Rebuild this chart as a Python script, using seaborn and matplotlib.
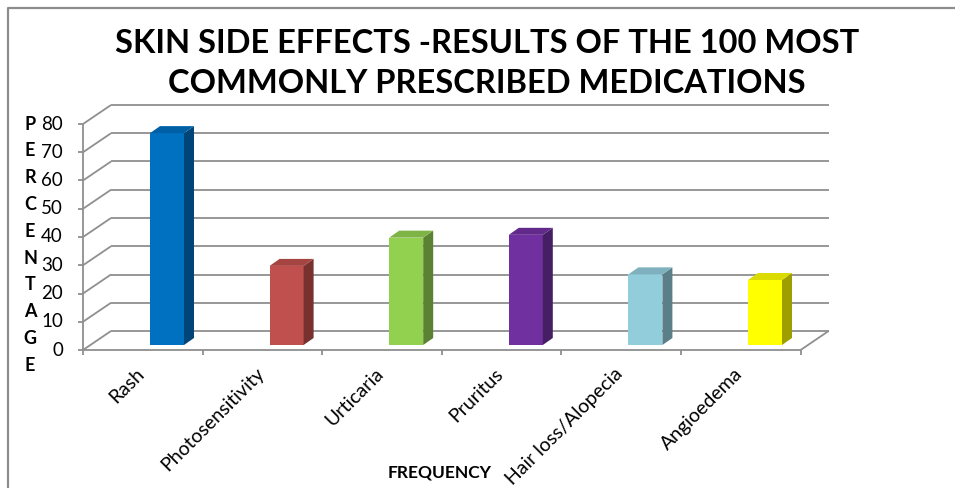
import numpy as np
import pandas as pd
import matplotlib
matplotlib.use("Agg")
import matplotlib.pyplot as plt
import seaborn as sns
from matplotlib.patches import Polygon
from matplotlib.colors import to_rgb
from matplotlib.lines import Line2D

categories = ["Rash", "Photosensitivity", "Urticaria", "Pruritus",
              "Hair loss/Alopecia", "Angioedema"]
percentages = [75, 28, 38, 39, 25, 23]
bar_colors = ["#0070C0", "#C0504D", "#92D050", "#7030A0", "#92CDDC", "#FFFF00"]
y_ticks = [0, 10, 20, 30, 40, 50, 60, 70, 80]
title_lines = ["SKIN SIDE EFFECTS -RESULTS OF THE 100 MOST",
               "COMMONLY PRESCRIBED MEDICATIONS"]
y_title = "PERCENTAGE"
x_title = "FREQUENCY"

W, H, DPI = 955, 488, 100
# pixel size of one category step and one percentage point
SX, SY = 119.6, 2.825
# pixel position of the first bar centre and of the bar base line
X0, Y0 = 167, 345


def px(x):
    return (x - X0) / SX


def py(y):
    return (Y0 - y) / SY


sns.set_theme(style="white")
plt.rcParams["font.family"] = ["Lato", "DejaVu Sans"]

fig = plt.figure(figsize=(W / DPI, H / DPI), dpi=DPI)
ax = fig.add_axes([0, 0, 1, 1])

df = pd.DataFrame({"effect": categories, "pct": percentages})
sns.barplot(data=df, x="effect", y="pct", hue="effect", palette=bar_colors,
            width=34 / SX, saturation=1, legend=False, linewidth=0,
            zorder=4, ax=ax)

ax.set_xlim(px(0), px(W))
ax.set_ylim(py(H), py(0))
ax.axis("off")

# 3-D box geometry (data units)
n = len(categories)
GAP = 0.2023                 # bars sit right of the category centre
FLOOR = -5 / SY              # front floor edge below the bar base
DX, DY = 28 / SX, 19 / SY    # depth of the box
BDX, BDY = 10 / SX, 7 / SY   # depth of each bar
bounds = np.arange(n + 1) - 0.5 - GAP
levels = [FLOOR + t for t in y_ticks]

grid_kw = dict(color="#8f8f8f", lw=1.3, zorder=1, solid_capstyle="butt")

for lv in levels:
    # back wall gridline
    ax.plot([bounds[0] + DX, bounds[-1] + DX], [lv + DY, lv + DY], **grid_kw)
    # side wall diagonal
    ax.plot([bounds[0], bounds[0] + DX], [lv, lv + DY], **grid_kw)
    # tick on the vertical axis
    ax.plot([bounds[0] - 5 / SX, bounds[0]], [lv, lv], **grid_kw)

# vertical value axis
ax.plot([bounds[0], bounds[0]], [levels[0], levels[-1]], **grid_kw)
# floor: front edge, category ticks and right edge
ax.plot([bounds[0], bounds[-1]], [FLOOR, FLOOR], **grid_kw)
for b in bounds:
    ax.plot([b, b], [FLOOR, FLOOR - 5 / SY], **grid_kw)
ax.plot([bounds[-1], bounds[-1] + DX], [FLOOR, FLOOR + DY], **grid_kw)

# side and top faces of the bars
for patch, col in zip(ax.patches, bar_colors):
    x, w, h = patch.get_x(), patch.get_width(), patch.get_height()
    base = patch.get_y()
    rgb = np.array(to_rgb(col))
    side = Polygon([(x + w, base), (x + w + BDX, base + BDY),
                    (x + w + BDX, base + h + BDY), (x + w, base + h)],
                   closed=True, facecolor=rgb * 0.62, edgecolor="none", zorder=4)
    top = Polygon([(x, base + h), (x + BDX, base + h + BDY),
                   (x + w + BDX, base + h + BDY), (x + w, base + h)],
                  closed=True, facecolor=rgb * 0.86, edgecolor="none", zorder=4)
    ax.add_patch(side)
    ax.add_patch(top)

# value labels
for t, lv in zip(y_ticks, levels):
    ax.text(px(63), lv, str(t), ha="right", va="center", fontsize=13.5,
            color="black")

# vertical axis title, one letter per row
for j, ch in enumerate(y_title):
    ax.text(px(30), py(124 + 26.8 * j), ch, ha="center", va="center",
            fontsize=13, fontweight="bold", color="black")

# category labels
for i, cat in enumerate(categories):
    ax.text(i - GAP - 7 / SX, FLOOR - 15 / SY, cat, rotation=45,
            rotation_mode="anchor", ha="right", va="top", fontsize=14,
            color="black")

ax.text(px(440), py(473), x_title, ha="center", va="center", fontsize=12.5,
        fontweight="bold", color="black")

# chart title
for k, line in enumerate(title_lines):
    fig.text(487 / W, 1 - (53 + 40 * k) / H, line, ha="center",
             va="baseline", fontsize=23.5, fontweight="bold", color="black")

# chart area border
fig.add_artist(Line2D([8 / W, 8 / W, 1], [0, 1 - 8 / H, 1 - 8 / H],
                      transform=fig.transFigure, color="#8c8c8c", lw=1.6))

fig.savefig("out.png", dpi=DPI)
